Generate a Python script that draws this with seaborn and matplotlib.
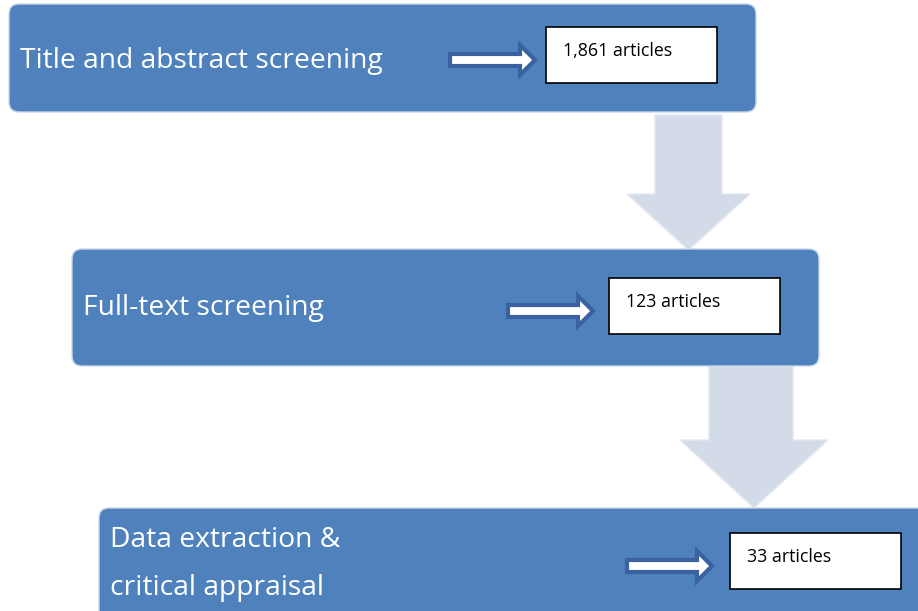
import matplotlib.pyplot as plt
import seaborn as sns
from matplotlib.patches import FancyBboxPatch, Rectangle, Polygon

sns.set_style("white")
plt.rcParams['font.family'] = ['Open Sans', 'DejaVu Sans']

# stages of the review and article counts
stages = ["Title and abstract screening", "Full-text screening", "Data extraction &\ncritical appraisal"]
counts = [1861, 123, 33]

# layout (pixels, origin top-left)
box_x = [9, 72, 99]
box_y = [4, 249, 508]
box_w = [747, 747, 830]
box_h = [108, 117, 120]
label_y = [61, 308, 564]
count_x = [546, 609, 730]
count_y = [27, 278, 533]
arrow_x = [450, 508, 627]

BLUE = "#4f81bd"
PALE = "#d3dbe8"
DARK = "#3a62a0"

fig = plt.figure(figsize=(9.18, 6.11), dpi=100)
ax = fig.add_axes([0, 0, 1, 1])
ax.set_xlim(0, 918)
ax.set_ylim(611, 0)
ax.axis("off")

# big stage boxes
for i, stage in enumerate(stages):
    ax.add_patch(FancyBboxPatch((box_x[i] + 10, box_y[i] + 10), box_w[i] - 20, box_h[i] - 20,
                                boxstyle="round,pad=10", fc=BLUE, ec="#c9d7ea", lw=1, zorder=1))
    if "\n" in stage:
        l1, l2 = stage.split("\n")
        ax.text(box_x[i] + 11, label_y[i] - 24, l1, color="white", fontsize=20.3, va="center", ha="left", zorder=5)
        ax.text(box_x[i] + 11, label_y[i] + 24, l2, color="white", fontsize=20.3, va="center", ha="left", zorder=5)
    else:
        ax.text(box_x[i] + 11, label_y[i], stage, color="white", fontsize=20.3, va="center", ha="left", zorder=5)

    # small right arrow
    ax0 = arrow_x[i]
    cy = count_y[i] + 33
    ax.add_patch(Polygon([(ax0, cy - 6), (ax0 + 70, cy - 6), (ax0 + 70, cy - 15), (ax0 + 85, cy),
                          (ax0 + 70, cy + 15), (ax0 + 70, cy + 6), (ax0, cy + 6)],
                         closed=True, fc="white", ec=DARK, lw=3, joinstyle="miter", zorder=4))

    # count box
    ax.add_patch(Rectangle((count_x[i], count_y[i]), 171, 56, fc="white", ec="black", lw=1.2, zorder=4))
    ax.text(count_x[i] + 17, count_y[i] + 24, f"{counts[i]:,} articles", fontsize=12.8, color="black",
            va="center", ha="left", zorder=5)

# pale down arrows between stages
down = [(655, 722, 115, 194, 627, 750, 250), (709, 793, 362, 440, 680, 828, 508)]
for sl, sr, top, hy, hl, hr, tip in down:
    ax.add_patch(Polygon([(sl, top), (sr, top), (sr, hy), (hr, hy), ((hl + hr) / 2, tip),
                          (hl, hy), (sl, hy)], closed=True, fc=PALE, ec="#e3e8f1", lw=1, zorder=0))

fig.savefig("out.png", dpi=100)
